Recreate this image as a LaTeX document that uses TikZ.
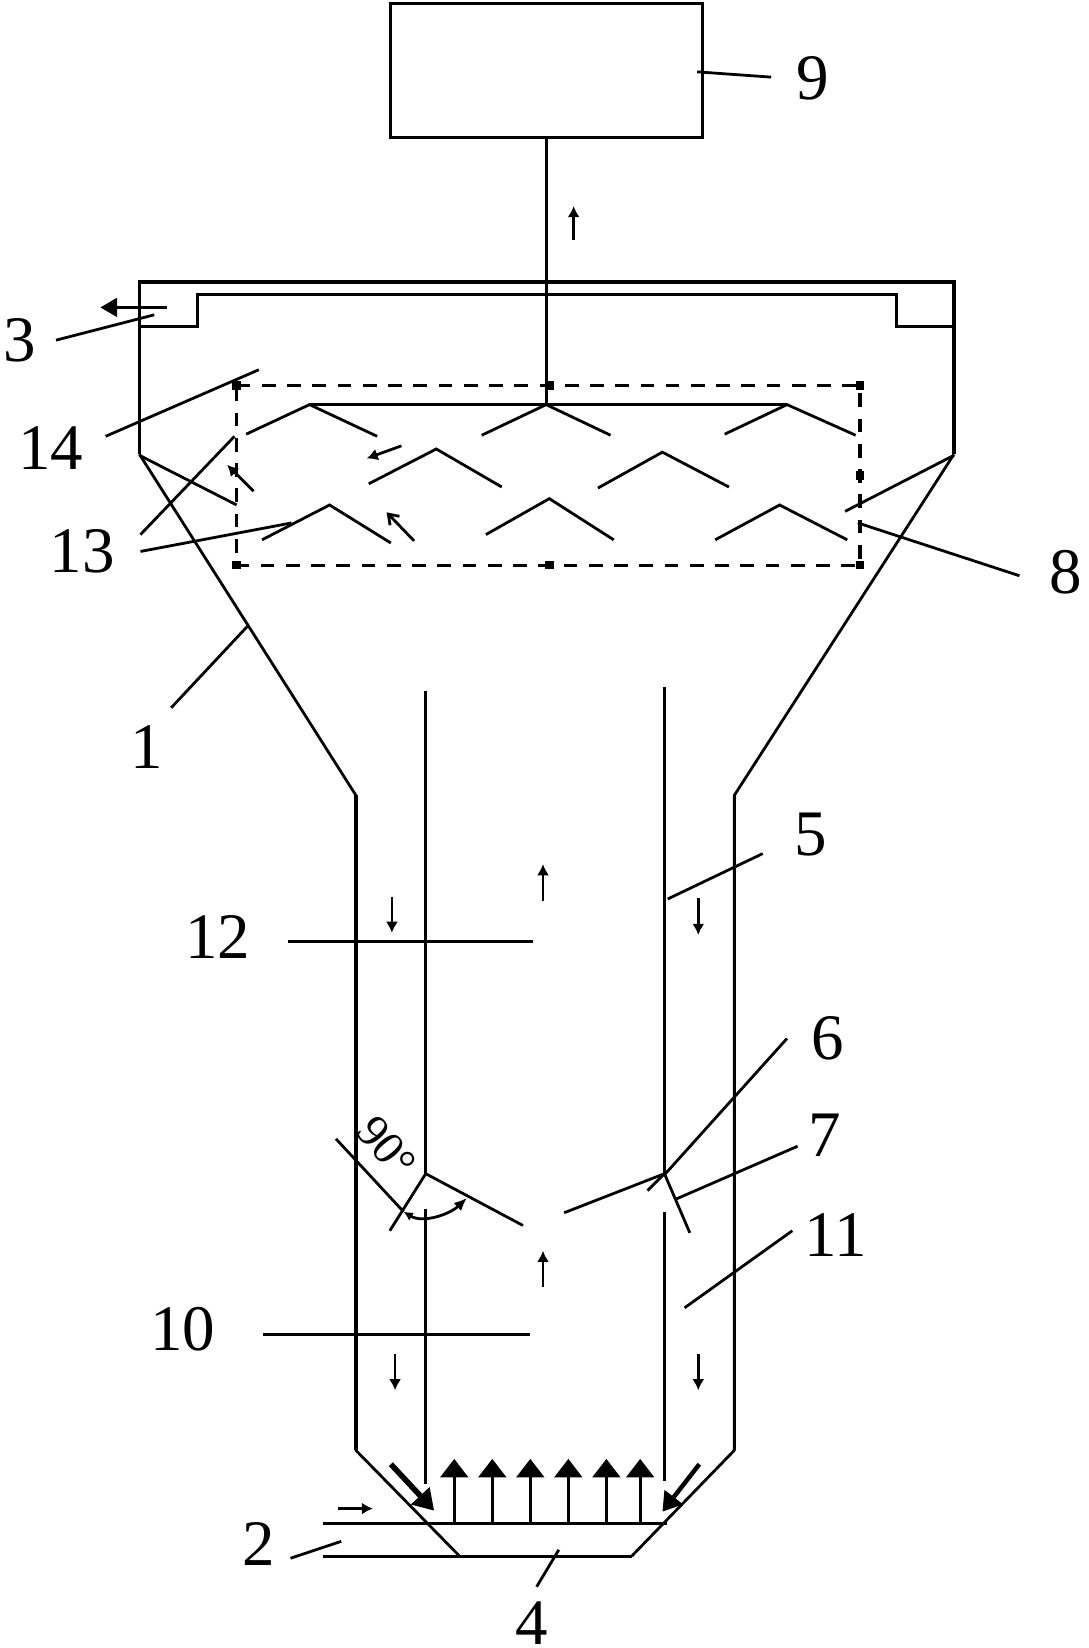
\documentclass[tikz,border=0pt]{standalone}
\usepackage{fontspec}
\setmainfont{Liberation Serif}
\usepackage{tikz}
\usetikzlibrary{arrows.meta, calc}

\tikzset{
    thickline/.style={line width=1.7pt},
    thinline/.style={line width=1.5pt},
    dashline/.style={line width=1.7pt, dash pattern=on 7.4pt off 6.2pt},
    flowarrow/.style={line width=1.5pt, -{Latex[width=6.5pt,length=6pt]}},
    bigarrow/.style={line width=1.6pt, -{Triangle[width=15pt,length=10pt]}},
    dotmark/.style={rectangle, fill=black, inner sep=0pt, minimum size=4.5pt},
    numlabel/.style={font=\fontsize{35}{35}\selectfont, inner sep=0pt}
}

\begin{document}
\begin{tikzpicture}[x=0.02cm, y=-0.02cm]
        \useasboundingbox (0,0) rectangle (1030,1560);

        % box and stem
        \draw[thickline] (370,3) rectangle (665,130);
        \coordinate (stemtop) at (517,130);
        \coordinate (stembot) at (517,383);
        \draw[thickline] (stemtop)--(stembot);

        % tank
        \draw[thickline] (132,430)--(132,267)--(903,267)--(903,430);
        \draw[thickline] (132,309)--(187,309)--(187,279)--(849,279)--(849,309)--(903,309);
        \draw[thinline] (132,430)--(337,753)--(337,1373)--(435,1473);
        \draw[thinline] (903,430)--(695,753)--(695,1373)--(598,1473);
        \draw[thickline] (337,753)--(337,1373);
        \draw[thickline] (695,753)--(695,1373);

        % bottom pipes
        \draw[thickline] (306,1442)--(631,1442);
        \draw[thickline] (306,1473)--(598,1473);

        % inner tubes and baffles
        \draw[thickline] (403,654)--(403,1111);
        \draw[thickline] (403,1144)--(403,1405);
        \draw[thinline] (629,650)--(629,1111);
        \draw[thinline] (629,1147)--(629,1402);
        \draw[thinline] (403,1111)--(495,1160);
        \draw[thinline] (534,1148)--(629,1111)--(653,1167);
        \draw[thinline] (613,1127)--(629,1111);

        % ninety degree mark
        \draw[thinline] (369,1165)--(403,1111);
        \draw[thinline] (318,1078)--(382,1147);
        \draw[thinline, {Latex[width=5pt,length=5pt]}-{Latex[width=6pt,length=7pt]}] (382,1147) .. controls (400,1158) and (425,1150) .. (442,1134);
        \node[rotate=-50, inner sep=0pt, font=\fontsize{25}{25}\selectfont] (angle) at (366,1086) {90\textdegree};

        % dashed frame
        \coordinate (fa) at (224,365);
        \coordinate (fb) at (814,365);
        \coordinate (fc) at (814,535);
        \coordinate (fd) at (224,535);
        \draw[dashline] (fa)--(fb)--(fc)--(fd)--cycle;
        \node[dotmark] (d1) at (fa) {};
        \node[dotmark] (d2) at (520,365) {};
        \node[dotmark] (d3) at (fb) {};
        \node[dotmark] (d4) at (814,450) {};
        \node[dotmark] (d5) at (fc) {};
        \node[dotmark] (d6) at (520,535) {};
        \node[dotmark] (d7) at (fd) {};

        % plates
        \draw[thickline] (293,383)--(745,383);
        \draw[thinline] (233,411)--(293,383)--(357,413);
        \draw[thinline] (456,412)--(517,383)--(578,412);
        \draw[thinline] (686,411)--(745,383)--(810,412);
        \draw[thinline] (349,458)--(413,425)--(475,461);
        \draw[thinline] (566,462)--(627,428)--(690,461);
        \draw[thinline] (248,511)--(312,478)--(370,514);
        \draw[thinline] (460,506)--(520,472)--(581,511);
        \draw[thinline] (677,511)--(738,478)--(802,511);
        \draw[thinline] (132,431)--(224,478);
        \draw[thinline] (903,431)--(800,484);

        % flow arrows
        \draw[flowarrow] (543,227)--(543,195);
        \draw[line width=1.7pt, -{Triangle[width=10pt,length=9pt]}] (158,291)--(95,291);
        \draw[flowarrow] (380,422)--(347,434);
        \draw[thinline, -{Straight Barb[width=7pt,length=5pt]}] (392,512)--(366,485);
        \draw[flowarrow] (240,465)--(215,440);
        \draw[flowarrow] (514,853)--(514,818);
        \draw[flowarrow] (371,849)--(371,883);
        \draw[flowarrow] (661,850)--(661,885);
        \draw[flowarrow] (514,1218)--(514,1184);
        \draw[flowarrow] (374,1282)--(374,1316);
        \draw[flowarrow] (661,1282)--(661,1316);
        \draw[flowarrow] (320,1428)--(353,1428);
        \draw[line width=3pt, -{Triangle[width=13pt,length=11pt]}] (370,1386)--(411,1430);
        \draw[line width=2.4pt, -{Triangle[width=12pt,length=10pt]}] (662,1386)--(627,1431);
        \draw[bigarrow] (430,1442)--(430,1381);
        \draw[bigarrow] (466,1442)--(466,1381);
        \draw[bigarrow] (502,1442)--(502,1381);
        \draw[bigarrow] (538,1442)--(538,1381);
        \draw[bigarrow] (574,1442)--(574,1381);
        \draw[bigarrow] (606,1442)--(606,1381);

        % labels
        \node[numlabel] (n1) at (139,707) {1};
        \node[numlabel] (n2) at (245,1462) {2};
        \node[numlabel] (n3) at (19,322) {3};
        \node[numlabel] (n4) at (503,1536) {4};
        \node[numlabel] (n5) at (767,790) {5};
        \node[numlabel] (n6) at (784,983) {6};
        \node[numlabel] (n7) at (781,1075) {7};
        \node[numlabel] (n8) at (1009,542) {8};
        \node[numlabel] (n9) at (769,74) {9};
        \node[numlabel] (n10) at (173,1258) {10};
        \node[numlabel] (n11) at (791,1169) {11};
        \node[numlabel] (n12) at (206,887) {12};
        \node[numlabel] (n13) at (78,522) {13};
        \node[numlabel] (n14) at (48,424) {14};

        % leaders
        \draw[thinline] (162,670)--(235,592);
        \draw[thinline] (275,1475)--(323,1459);
        \draw[thinline] (53,322)--(146,298);
        \draw[thinline] (508,1502)--(529,1467);
        \draw[thinline] (632,851)--(722,808);
        \draw[thinline] (629,1112)--(745,983);
        \draw[thinline] (640,1135)--(755,1085);
        \draw[thinline] (812,495)--(965,545);
        \draw[thinline] (660,68)--(730,73);
        \draw[thinline] (249,1263)--(502,1263);
        \draw[thinline] (648,1238)--(750,1165);
        \draw[thinline] (273,891)--(505,891);
        \draw[thinline] (133,506)--(222,413);
        \draw[thinline] (133,522)--(276,495);
        \draw[thinline] (100,413)--(245,350);
    \end{tikzpicture}
\end{document}
